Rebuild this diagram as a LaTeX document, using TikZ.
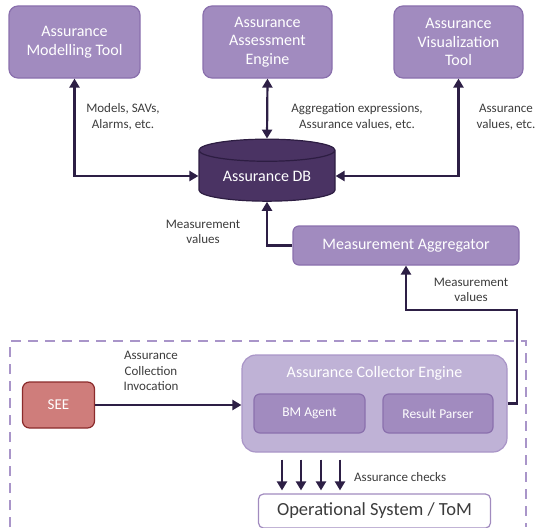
\documentclass[tikz,border=0pt]{standalone}
\usepackage{fontspec}
\setmainfont{Carlito}
\usetikzlibrary{shapes.geometric,arrows.meta}

\definecolor{toolfill}{HTML}{A18BBF}
\definecolor{toolline}{HTML}{8A70AD}
\definecolor{dbfill}{HTML}{4A3363}
\definecolor{dbline}{HTML}{2D1D42}
\definecolor{collfill}{HTML}{BFB2D6}
\definecolor{collline}{HTML}{A995C7}
\definecolor{seefill}{HTML}{CF7D7B}
\definecolor{seeline}{HTML}{8B2B2B}
\definecolor{arrowcol}{HTML}{2D1F45}
\definecolor{lbltext}{HTML}{3C3C3C}
\definecolor{framecol}{HTML}{A995C9}

\begin{document}
\begin{tikzpicture}[x=1pt,y=-1pt,
	tool/.style={draw=toolline, line width=1.2pt, fill=toolfill, rounded corners=9pt,
		text=white, align=center, inner sep=0pt, font=\fontsize{16}{18.5}\selectfont},
	subbox/.style={tool, rounded corners=6pt, font=\fontsize{13.5}{15}\selectfont},
	lbl/.style={text=lbltext, align=center, inner sep=0pt, font=\fontsize{13}{15.5}\selectfont},
	flow/.style={draw=arrowcol, line width=2.2pt, -{Triangle[length=9pt,width=10pt]}},
	bothflow/.style={flow, {Triangle[length=9pt,width=10pt]}-{Triangle[length=9pt,width=10pt]}}]

	\useasboundingbox (0,0) rectangle (535,527);

	% Werkzeuge oben
	\node[tool, minimum width=131pt, minimum height=72pt] (modtool) at (74.5,42) {Assurance\\Modelling Tool};
	\node[tool, minimum width=129pt, minimum height=72pt] (engine) at (267.5,42) {Assurance\\Assessment\\Engine};
	\node[tool, minimum width=129pt, minimum height=72pt] (vistool) at (458.5,42) {Assurance\\Visualization\\Tool};

	% Datenbank
	\node[cylinder, shape border rotate=90, aspect=0.25, draw=dbline, line width=1.2pt, fill=dbfill,
		text=white, minimum width=136pt, minimum height=62pt, inner sep=0pt,
		font=\fontsize{16}{18}\selectfont] (db) at (267,176) {Assurance DB};

	\node[tool, rounded corners=6pt, minimum width=226pt, minimum height=39pt] (aggr) at (406,245.5) {Measurement Aggregator};

	% gestrichelter Rahmen
	\draw[framecol, line width=1.8pt, dash pattern=on 10pt off 7pt] (10,527) |- (526,341) -- (526,527);

	\node[draw=seeline, line width=1.2pt, fill=seefill, rounded corners=7pt, text=white,
		minimum width=72pt, minimum height=46pt, inner sep=0pt,
		font=\fontsize{15}{17}\selectfont] (see) at (58.5,405) {SEE};

	\node[draw=collline, line width=1.2pt, fill=collfill, rounded corners=14pt,
		minimum width=265pt, minimum height=97pt] (coll) at (374.5,403.5) {};
	\node[text=white, inner sep=0pt, font=\fontsize{16}{18}\selectfont] (colltitle) at (374.5,373) {Assurance Collector Engine};
	\node[subbox, minimum width=111pt, minimum height=39pt] (bm) at (309.5,413.5) {BM Agent};
	\node[subbox, minimum width=110pt, minimum height=39pt] (parser) at (438,413.5) {Result Parser};

	\node[draw=toolfill, line width=1.2pt, fill=white, rounded corners=5pt, text=lbltext,
		minimum width=232pt, minimum height=34pt, inner sep=0pt,
		font=\fontsize{18.5}{20}\selectfont] (os) at (374.5,511) {Operational System / ToM};

	% Beschriftungen
	\node[lbl] (lmodels) at (123,117) {Models, SAVs,\\Alarms, etc.};
	\node[lbl] (lagg) at (357,117) {Aggregation expressions,\\Assurance values, etc.};
	\node[lbl] (lvis) at (506,117) {Assurance\\values, etc.};
	\node[lbl] (lmeasa) at (203,232) {Measurement\\values};
	\node[lbl] (lmeasb) at (471,290) {Measurement\\values};
	\node[lbl] (linvoc) at (151,371) {Assurance\\Collection\\Invocation};
	\node[lbl, anchor=west] (lchecks) at (354,477) {Assurance checks};

	% Verbindungen
	\draw[bothflow] (modtool.south) |- (db.west);
	\draw[bothflow] (engine.south) -- (db.north);
	\draw[bothflow] (vistool.south) |- (db.east);
	\draw[flow] (aggr.west) -| (db.south);
	\coordinate (bend) at (517,310);
	\draw[flow] (coll.east) -| (bend) -| (aggr.south);
	\draw[flow] (see.east) -- (see.east -| coll.west);
	\foreach \dx in {-92.5,-73.5,-53.5,-34.5}
		\draw[flow] ([shift={(\dx,7)}]coll.south) -- ([shift={(\dx,-3)}]os.north);

\end{tikzpicture}
\end{document}
